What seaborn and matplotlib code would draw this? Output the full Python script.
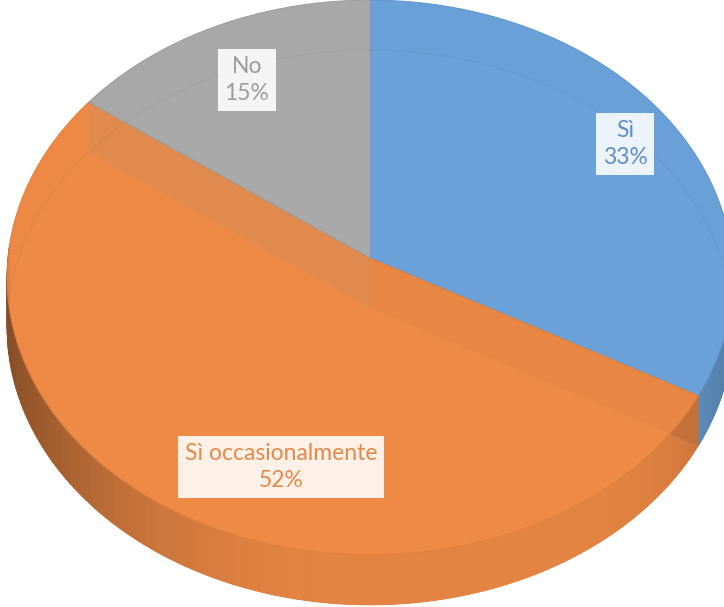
import numpy as np
import matplotlib
matplotlib.use("Agg")
import matplotlib.pyplot as plt
import seaborn as sns
from matplotlib.patches import Polygon
import matplotlib.colors as mcolors

categories = ["Sì", "Sì occasionalmente", "No"]
values = [33, 52, 15]
colors = ["#69A1D8", "#EE8A45", "#A9A9A9"]
label_colors = ["#5f8fc8", "#e4894a", "#9c9c9c"]

sns.set_theme(style="white")
plt.rcParams['font.family'] = ['Lato', 'DejaVu Sans']

fig = plt.figure(figsize=(7.24, 6.07), dpi=100)
ax = fig.add_axes([0, 0, 1, 1])
ax.set_xlim(0, 724)
ax.set_ylim(607, 0)
ax.axis('off')

cx, cy = 370.0, 258.0
A, B, k = 362.0, 276.0, 0.0703
depth = 50.0


def proj(theta, z=0.0):
    u = np.sin(theta)
    v = np.cos(theta)
    w = 1 + k * v
    return cx + A * u / w, cy - B * v / w + z


def shade(c, f):
    r, g, b = mcolors.to_rgb(c)
    return (min(1, r * f), min(1, g * f), min(1, b * f))


total = float(sum(values))
bounds = np.cumsum([0] + values) / total * 2 * np.pi

# bottom faces and back side walls (seen through the semi-transparent top)
for i, c in enumerate(colors):
    a0, a1 = bounds[i], bounds[i + 1]
    t = np.linspace(a0, a1, 200)
    xs, ys = proj(t, depth)
    pts = [(cx, cy + depth)] + list(zip(xs, ys))
    ax.add_patch(Polygon(pts, closed=True, facecolor=c,
                         edgecolor='none', zorder=0.5))
    xt, yt = proj(t)
    band = list(zip(xt, yt)) + list(zip(xs[::-1], ys[::-1]))
    ax.add_patch(Polygon(band, closed=True, facecolor=shade(c, 0.98),
                         edgecolor='none', zorder=0.4))

# outer side walls (front half)
for i, c in enumerate(colors):
    a0, a1 = bounds[i], bounds[i + 1]
    lo, hi = max(a0, np.pi / 2 - 0.05), min(a1, 3 * np.pi / 2 + 0.05)
    if hi <= lo:
        continue
    edges = np.linspace(lo, hi, 150)
    for j in range(len(edges) - 1):
        t0, t1 = edges[j], edges[j + 1]
        tm = 0.5 * (t0 + t1)
        if tm > np.pi:
            f = 0.96 - 0.40 * max(0.0, np.sin(tm - np.pi)) ** 2.2
        else:
            f = 0.96 - 0.22 * max(0.0, np.sin(tm)) ** 6
        x0, y0 = proj(t0)
        x1, y1 = proj(t1)
        poly = [(x0, y0), (x1, y1), (x1, y1 + depth), (x0, y0 + depth)]
        ax.add_patch(Polygon(poly, closed=True, facecolor=shade(c, f),
                             edgecolor=shade(c, f), lw=0.6, zorder=1))

# radial walls
for i, c in enumerate(colors):
    for a in (bounds[i], bounds[i + 1]):
        xr, yr = proj(a)
        poly = [(cx, cy), (xr, yr), (xr, yr + depth), (cx, cy + depth)]
        ax.add_patch(Polygon(poly, closed=True, facecolor=shade(c, 0.82),
                             edgecolor='none', zorder=2))

# top faces
for i, c in enumerate(colors):
    a0, a1 = bounds[i], bounds[i + 1]
    t = np.linspace(a0, a1, 300)
    xs, ys = proj(t)
    pts = [(cx, cy)] + list(zip(xs, ys))
    ax.add_patch(Polygon(pts, closed=True, facecolor=c, alpha=0.88,
                         edgecolor=shade(c, 0.93), lw=0.8, zorder=3))

# faint back rim of the bottom face
tt = np.linspace(-np.pi / 2, np.pi / 2, 300)
bx, by = proj(tt, depth)
ax.plot(bx, by, color='k', alpha=0.05, lw=1, zorder=3.5)

# labels
label_pos = [(247, 80), (625, 144), (281, 467)]
label_pos = [label_pos[1], label_pos[2], label_pos[0]]
for i, cat in enumerate(categories):
    x, y = label_pos[i]
    ax.text(x, y, f"{cat}\n{values[i]}%", ha='center', va='center',
            fontsize=16.5, color=label_colors[i], linespacing=1.35, zorder=5,
            bbox=dict(boxstyle='square,pad=0.3', facecolor='white', alpha=0.88,
                      edgecolor='none'))

fig.savefig("out.png", dpi=100)
